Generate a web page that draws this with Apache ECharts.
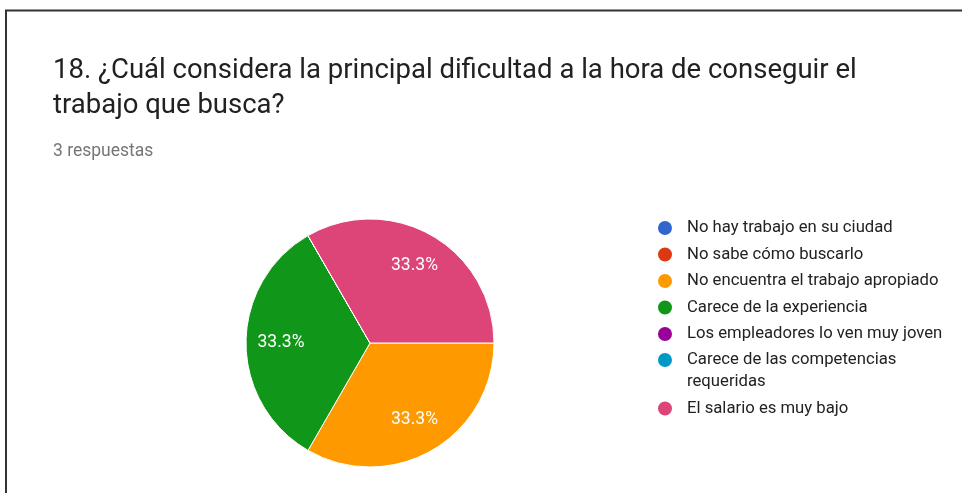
<!DOCTYPE html>
<html>
<head>
<meta charset="utf-8">
<script src="https://cdn.jsdelivr.net/npm/echarts@6/dist/echarts.min.js"></script>
<style>
  html, body { margin: 0; padding: 0; background: #fff; }
  #chart { width: 962px; height: 493px; }
</style>
</head>
<body>
<div id="chart"></div>
<script>
// Respuestas de la pregunta 18
const categorias = [
  'No hay trabajo en su ciudad',
  'No sabe cómo buscarlo',
  'No encuentra el trabajo apropiado',
  'Carece de la experiencia',
  'Los empleadores lo ven muy joven',
  'Carece de las competencias\nrequeridas',
  'El salario es muy bajo'
];
const respuestas = [0, 0, 1, 1, 0, 0, 1];
const colores = ['#3366cc', '#dc3912', '#ff9900', '#109618', '#990099', '#0099c6', '#dd4477'];

const titulo = '18. ¿Cuál considera la principal dificultad a la hora de conseguir el\ntrabajo que busca?';
const subtitulo = '3 respuestas';

const datos = categorias.map((c, i) => ({ name: c, value: respuestas[i] }));

const chart = echarts.init(document.getElementById('chart'));

const pct = p => p.value ? p.percent.toFixed(1) + '%' : '';

const legendaBase = {
  orient: 'vertical',
  left: 651,
  icon: 'circle',
  itemWidth: 16,
  itemHeight: 16,
  itemGap: 4.5,
  selectedMode: false,
  textStyle: {
    fontFamily: 'Roboto',
    fontSize: 16.7,
    color: '#222',
    lineHeight: 22,
    padding: [0, 0, 0, 9]
  }
};

chart.setOption({
  animation: false,
  color: colores,
  title: {
    text: titulo,
    subtext: subtitulo,
    left: 48,
    top: 49,
    itemGap: 19,
    textStyle: {
      fontFamily: 'Roboto',
      fontSize: 27.5,
      fontWeight: 'normal',
      color: '#212121',
      lineHeight: 35
    },
    subtextStyle: {
      fontFamily: 'Roboto',
      fontSize: 17.5,
      color: '#757575'
    }
  },
  legend: [
    Object.assign({}, legendaBase, { top: 212, data: categorias.slice(0, 5) }),
    // línea vacía arriba para que el punto quede en la primera línea del texto
    Object.assign({}, legendaBase, {
      top: 322,
      data: categorias.slice(5),
      formatter: n => n.indexOf('\n') >= 0 ? '\n' + n : n
    })
  ],
  graphic: [
    { type: 'line', shape: { x1: 5, y1: 10.5, x2: 962, y2: 10.5 }, style: { stroke: '#333', lineWidth: 2 } },
    { type: 'line', shape: { x1: 6, y1: 10, x2: 6, y2: 493 }, style: { stroke: '#333', lineWidth: 2 } }
  ],
  series: [
    {
      type: 'pie',
      center: [370, 343],
      radius: [0, 124],
      startAngle: 0,
      clockwise: true,
      data: datos,
      label: { show: false },
      labelLine: { show: false },
      itemStyle: { borderColor: '#fff', borderWidth: 1 }
    },
    {
      // serie transparente sólo para colocar las etiquetas más afuera
      type: 'pie',
      center: [370, 343],
      radius: [48, 124],
      startAngle: 0,
      clockwise: true,
      silent: true,
      data: datos,
      itemStyle: { color: 'rgba(0,0,0,0)' },
      label: {
        show: true,
        position: 'inside',
        formatter: pct,
        fontFamily: 'Roboto',
        fontSize: 17.5,
        color: '#fff'
      },
      labelLine: { show: false }
    }
  ]
});
</script>
</body>
</html>
